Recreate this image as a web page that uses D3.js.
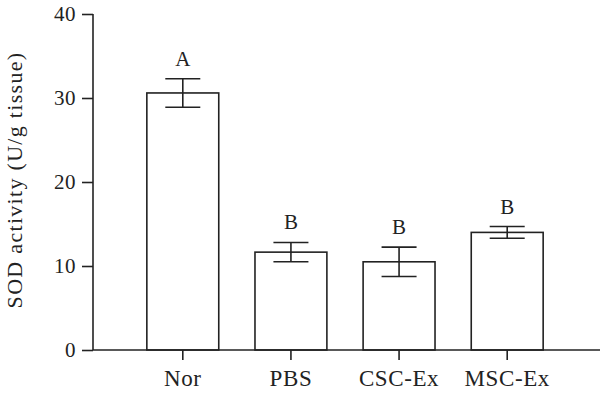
<!DOCTYPE html>
<html>
<head>
<meta charset="utf-8">
<script src="https://cdn.jsdelivr.net/npm/d3@7"></script>
<style>
  body { margin: 0; background: #fff; }
  svg text { font-family: "Liberation Serif", "DejaVu Serif", serif; fill: #222; }
</style>
</head>
<body>
<div id="chart"></div>
<script>
// groups and SOD values
var groups = ["Nor", "PBS", "CSC-Ex", "MSC-Ex"];
var means = [30.6, 11.65, 10.5, 14.0];
var errors = [1.7, 1.15, 1.75, 0.7];
var letters = ["A", "B", "B", "B"];
var yTicks = [0, 10, 20, 30, 40];

var width = 600, height = 397;
var margin = {top: 14, right: 0, bottom: 47, left: 93};

var svg = d3.select("#chart").append("svg")
    .attr("width", width)
    .attr("height", height);

var g = svg.append("g")
    .attr("transform", "translate(" + margin.left + "," + margin.top + ")");

var innerW = width - margin.left - margin.right,
    innerH = height - margin.top - margin.bottom;

var x = d3.scaleBand()
    .domain(groups)
    .range([36, 468])
    .paddingInner(0.335)
    .paddingOuter(0.165);

var y = d3.scaleLinear()
    .domain([0, 40])
    .range([innerH, 0]);

var data = groups.map(function(d, i) {
    return {name: d, mean: means[i], err: errors[i], letter: letters[i]};
});

// bars
g.selectAll(".bar")
    .data(data)
    .enter().append("rect")
    .attr("class", "bar")
    .attr("x", function(d) { return x(d.name); })
    .attr("y", function(d) { return y(d.mean); })
    .attr("width", x.bandwidth())
    .attr("height", function(d) { return y(0) - y(d.mean); })
    .attr("fill", "#fff")
    .attr("stroke", "#222")
    .attr("stroke-width", 1.6);

// error bars
var capW = 35;
var eb = g.selectAll(".err")
    .data(data)
    .enter().append("g")
    .attr("class", "err")
    .attr("stroke", "#222")
    .attr("stroke-width", 1.6);

eb.append("line")
    .attr("x1", function(d) { return x(d.name) + x.bandwidth() / 2; })
    .attr("x2", function(d) { return x(d.name) + x.bandwidth() / 2; })
    .attr("y1", function(d) { return y(d.mean + d.err); })
    .attr("y2", function(d) { return y(d.mean - d.err); });

eb.selectAll(".cap")
    .data(function(d) {
        return [d.mean + d.err, d.mean - d.err].map(function(v) { return {name: d.name, v: v}; });
    })
    .enter().append("line")
    .attr("class", "cap")
    .attr("x1", function(d) { return x(d.name) + x.bandwidth() / 2 - capW / 2; })
    .attr("x2", function(d) { return x(d.name) + x.bandwidth() / 2 + capW / 2; })
    .attr("y1", function(d) { return y(d.v); })
    .attr("y2", function(d) { return y(d.v); });

// significance letters
g.selectAll(".letter")
    .data(data)
    .enter().append("text")
    .attr("class", "letter")
    .attr("x", function(d) { return x(d.name) + x.bandwidth() / 2; })
    .attr("y", function(d) { return y(d.mean + d.err) - 13; })
    .attr("text-anchor", "middle")
    .style("font-size", "21px")
    .text(function(d) { return d.letter; });

// axes
var yAxis = g.append("g")
    .call(d3.axisLeft(y).tickValues(yTicks).tickSize(11).tickPadding(6));

var xAxis = g.append("g")
    .attr("transform", "translate(0," + innerH + ")")
    .call(d3.axisBottom(x).tickSize(10).tickPadding(10));

[yAxis, xAxis].forEach(function(a) {
    a.selectAll("path, line").attr("stroke", "#222").attr("stroke-width", 1.6);
    a.selectAll("text").attr("fill", "#222")
        .style("font-family", "Liberation Serif, DejaVu Serif, serif");
});
yAxis.selectAll("text").style("font-size", "21px").style("letter-spacing", "0.5px");
xAxis.selectAll("text").style("font-size", "23px").style("letter-spacing", "0.6px");
xAxis.select(".domain").attr("d", "M0,0H" + innerW);
yAxis.select(".domain").attr("d", "M0," + innerH + "V0");

// y-axis title
svg.append("text")
    .attr("transform", "translate(22," + (margin.top + innerH / 2 - 2) + ") rotate(-90)")
    .attr("text-anchor", "middle")
    .style("font-size", "22px")
    .style("letter-spacing", "1.3px")
    .text("SOD activity (U/g tissue)");
</script>
</body>
</html>
